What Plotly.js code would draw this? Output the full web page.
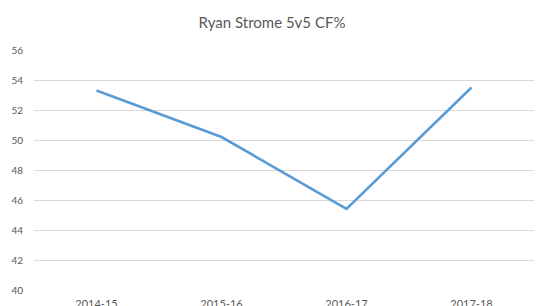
<!DOCTYPE html>
<html>
<head>
<meta charset="utf-8">
<script src="https://cdn.plot.ly/plotly-3.0.1.min.js"></script>
<style>
  html, body { margin: 0; padding: 0; background: #fff; }
  #chart { width: 544px; height: 306px; }
</style>
</head>
<body>
<div id="chart"></div>
<script>
// Season labels along the x axis
const seasons = ["2014-15", "2015-16", "2016-17", "2017-18"];
// 5v5 Corsi-for percentage per season
const cfPct = [53.3, 50.2, 45.4, 53.5];
// Y axis tick values
const yTicks = [40, 42, 44, 46, 48, 50, 52, 54, 56];

const textColor = "#595959";
const font = "Lato, 'Open Sans', sans-serif";

const trace = {
  x: seasons,
  y: cfPct,
  type: "scatter",
  mode: "lines",
  line: { color: "#5B9BD5", width: 2.6 },
  hoverinfo: "x+y"
};

const layout = {
  width: 544,
  height: 306,
  margin: { l: 34, r: 10, t: 50, b: 16 },
  paper_bgcolor: "#ffffff",
  plot_bgcolor: "#ffffff",
  showlegend: false,
  title: {
    text: "Ryan Strome 5v5 CF%",
    font: { family: font, size: 15, color: textColor },
    x: 0.5,
    xanchor: "center",
    y: 0.925,
    yanchor: "middle"
  },
  xaxis: {
    type: "category",
    range: [-0.5, 3.5],
    showgrid: false,
    zeroline: false,
    showline: false,
    ticks: "",
    ticklabelstandoff: 6,
    tickfont: { family: font, size: 11, color: textColor },
    fixedrange: true
  },
  yaxis: {
    range: [40, 56],
    tickvals: yTicks,
    showgrid: true,
    gridcolor: "#D9D9D9",
    gridwidth: 1,
    zeroline: false,
    showline: false,
    ticks: "",
    ticklabelstandoff: 10,
    tickfont: { family: font, size: 10, color: textColor },
    fixedrange: true
  }
};

Plotly.newPlot("chart", [trace], layout, { displayModeBar: false, staticPlot: true });
</script>
</body>
</html>
